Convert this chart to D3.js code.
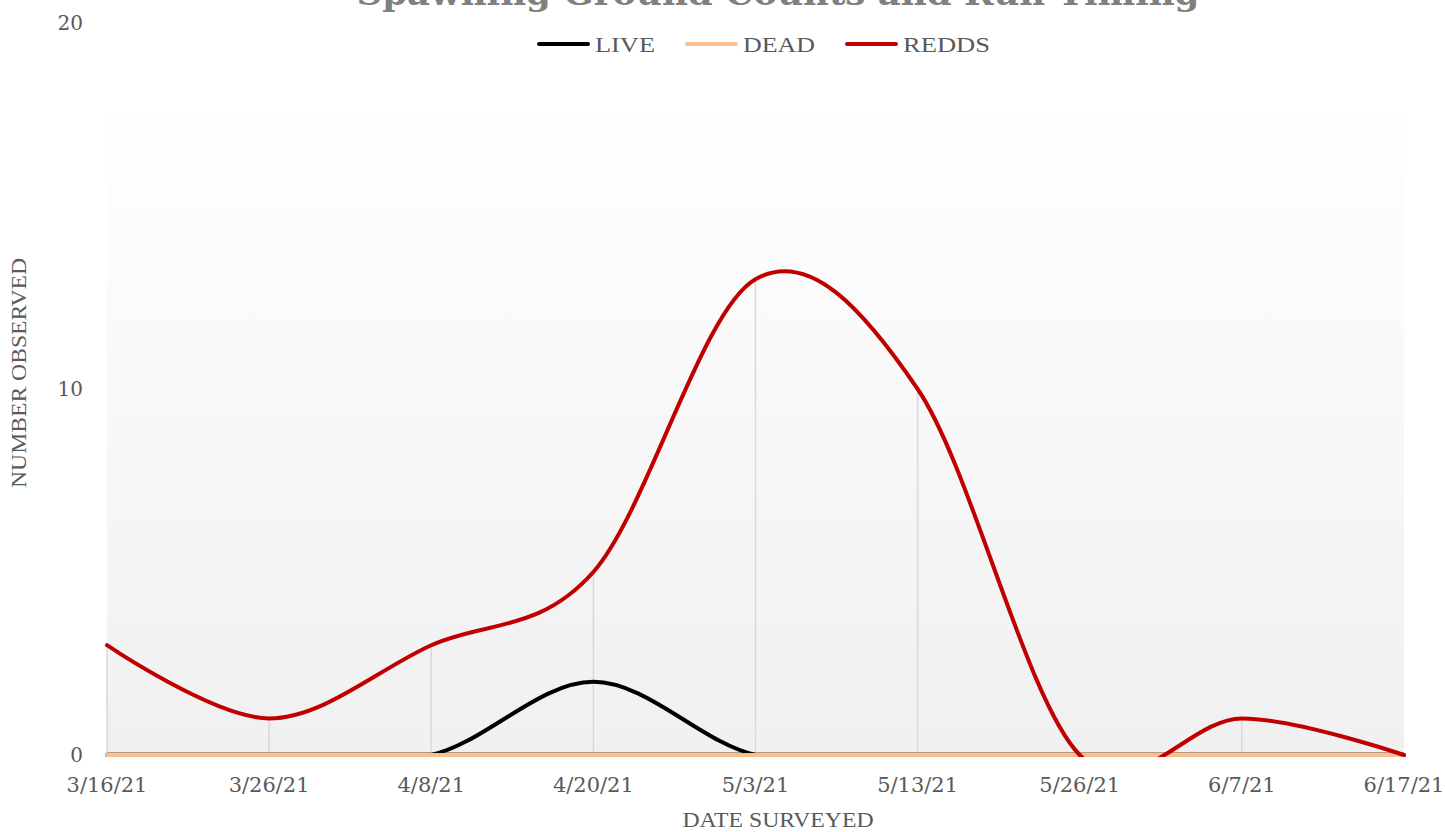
<!DOCTYPE html>
<html><head><meta charset="utf-8">
<script src="https://cdn.jsdelivr.net/npm/d3@7"></script>
<style>body{margin:0;background:#fff;} svg{display:block;}</style>
</head><body>
<svg id="chart" width="1445" height="832"></svg>
<script>
const dates = ["3/16/21","3/26/21","4/8/21","4/20/21","5/3/21","5/13/21","5/26/21","6/7/21","6/17/21"];
const live  = [0,0,0,2,0,0,0,0,0];
const dead  = [0,0,0,0,0,0,0,0,0];
const redds = [3,1,3,5,13,10,0,1,0];
const yTicks = [0,10,20];
const seriesNames = ["LIVE","DEAD","REDDS"];
const seriesColors = ["#000000","#f8c08e","#c00000"];

const svg = d3.select("#chart");
const font = "'DejaVu Serif', serif";
const L = 107, R = 1404, T = 23, B = 755, plotTop = 100;

const x = d3.scalePoint().domain(dates).range([L, R]);
const y = d3.scaleLinear().domain([0, 20]).range([B, T]);

// background gradient
const defs = svg.append("defs");
const g = defs.append("linearGradient").attr("id","bg").attr("x1",0).attr("y1",0).attr("x2",0).attr("y2",1);
g.append("stop").attr("offset","0%").attr("stop-color","#ffffff");
g.append("stop").attr("offset","100%").attr("stop-color","#f0f0f0");
svg.append("rect").attr("x",L).attr("y",plotTop).attr("width",R-L).attr("height",B-plotTop).attr("fill","url(#bg)");
defs.append("clipPath").attr("id","clip").append("rect").attr("x",L-5).attr("y",0).attr("width",R-L+10).attr("height",B+2);

// drop lines
const maxVals = dates.map((d,i)=>Math.max(live[i],dead[i],redds[i]));
svg.append("g").selectAll("line").data(dates).join("line")
  .attr("x1",d=>x(d)).attr("x2",d=>x(d))
  .attr("y1",(d,i)=>y(maxVals[i])).attr("y2",B)
  .attr("stroke","#d9d9d9").attr("stroke-width",1.5);

// axis line
svg.append("line").attr("x1",L).attr("x2",R).attr("y1",B-2.5).attr("y2",B-2.5)
  .attr("stroke","#b89a80").attr("stroke-width",1);

const line = d3.line().x((d,i)=>x(dates[i])).y(d=>y(d)).curve(d3.curveCatmullRom.alpha(0));
const data = [live, dead, redds];
const lg = svg.append("g").attr("clip-path","url(#clip)");
data.forEach((s,k)=>{
  lg.append("path").datum(s).attr("d",line).attr("fill","none")
    .attr("stroke",seriesColors[k]).attr("stroke-width",4)
    .attr("stroke-linecap","round").attr("stroke-linejoin","round");
});

// y ticks
svg.append("g").selectAll("text").data(yTicks).join("text")
  .attr("x",83).attr("y",d=>y(d)).attr("dy","0.35em").attr("text-anchor","end")
  .attr("font-family",font).attr("font-size",20).attr("fill","#595959").text(d=>d);

// x ticks
svg.append("g").selectAll("text").data(dates).join("text")
  .attr("x",d=>x(d)).attr("y",792).attr("text-anchor","middle")
  .attr("font-family",font).attr("font-size",21).attr("fill","#595959").text(d=>d);

// axis titles
svg.append("text").attr("x",778).attr("y",827).attr("text-anchor","middle")
  .attr("font-family","'Liberation Serif', serif").attr("font-size",21).attr("fill","#595959")
  .attr("textLength",191).attr("lengthAdjust","spacingAndGlyphs").text("DATE SURVEYED");
svg.append("text").attr("transform","translate(26,373) rotate(-90)").attr("text-anchor","middle")
  .attr("font-family","'Liberation Serif', serif").attr("font-size",21).attr("fill","#595959")
  .attr("textLength",230).attr("lengthAdjust","spacingAndGlyphs").text("NUMBER OBSERVED");

// title (cut off at the top edge, as in the reference)
svg.append("text").attr("x",778).attr("y",5).attr("text-anchor","middle")
  .attr("font-family",font).attr("font-weight","bold").attr("font-size",34).attr("fill","#808080")
  .attr("textLength",843).attr("lengthAdjust","spacingAndGlyphs").text("Spawning Ground Counts and Run Timing");

// legend
const legX = [537, 685, 845];
const legW = [60, 72, 87];
const leg = svg.append("g");
seriesNames.forEach((n,k)=>{
  leg.append("line").attr("x1",legX[k]+2).attr("x2",legX[k]+51).attr("y1",44).attr("y2",44)
    .attr("stroke",seriesColors[k]).attr("stroke-width",4).attr("stroke-linecap","round");
  leg.append("text").attr("x",legX[k]+58).attr("y",44).attr("dy","0.35em")
    .attr("font-family","'Liberation Serif', serif").attr("font-size",22).attr("fill","#595959")
    .attr("textLength",legW[k]).attr("lengthAdjust","spacingAndGlyphs").text(n);
});
</script>
</body></html>
